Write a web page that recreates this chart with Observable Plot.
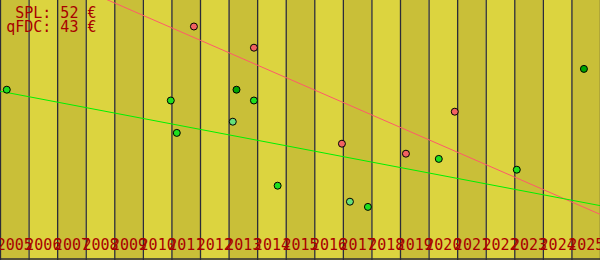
<!DOCTYPE html>
<html><head><meta charset="utf-8">
<script src="https://cdn.jsdelivr.net/npm/d3@7"></script>
<script src="https://cdn.jsdelivr.net/npm/@observablehq/plot@0.6"></script>
<style>body{margin:0;background:#fff}#chart{width:600px;height:260px;overflow:hidden}</style>
</head><body><div id="chart"></div>
<script>
// Year bands (categories)
const years = [2005,2006,2007,2008,2009,2010,2011,2012,2013,2014,2015,2016,2017,2018,2019,2020,2021,2022,2023,2024,2025];
const yearEnd = 2026;

// SPL observations (date as decimal year, price in €)
const splDates  = [2011.77, 2013.87, 2016.95, 2019.19, 2020.90];
const splPrices = [58.5, 53.2, 29.2, 26.7, 37.2];

// qFDC observations
const fdcDates  = [2005.22, 2010.96, 2011.17, 2013.13, 2013.26, 2013.87, 2014.70, 2017.23, 2017.86, 2020.34, 2023.07, 2025.42];
const fdcPrices = [42.7, 40.0, 31.9, 34.7, 42.7, 40.0, 18.7, 14.7, 13.4, 25.4, 22.7, 47.9];
const fdcKinds  = ["b","b","b","l","d","b","b","l","b","b","b","d"];

// Trend lines (values at start / end of the period)
const trendYears = [2005, 2026];
const splTrend = [76.8, 11.5];
const fdcTrend = [42.3, 13.7];

// Legend
const legendNames  = ["SPL", "qFDC"];
const legendValues = [52, 43];

const kindColor = {b: "#1ee01e", d: "#00a400", l: "#66e07a"};

const spl = splDates.map((d, i) => ({date: d, price: splPrices[i]}));
const fdc = fdcDates.map((d, i) => ({date: d, price: fdcPrices[i], kind: fdcKinds[i]}));
const splLine = trendYears.map((d, i) => ({date: d, price: splTrend[i]}));
const fdcLine = trendYears.map((d, i) => ({date: d, price: fdcTrend[i]}));
const legendText = legendNames.map((n, i) => `${n}: ${legendValues[i]} €`).join("\n");

const chart = Plot.plot({
  width: 600,
  height: 260,
  margin: 0,
  x: {domain: [2005, yearEnd], axis: null},
  y: {domain: [0, 65], axis: null},
  color: {type: "identity"},
  style: {fontFamily: "DejaVu Sans Mono", fontSize: "15px", background: "transparent", overflow: "hidden"},
  marks: [
    Plot.rect(years, {x1: d => d, x2: d => d + 1, fill: (d, i) => i % 2 === 0 ? "#c9bf38" : "#dcd43f"}),
    Plot.ruleX([...years, yearEnd], {stroke: "#2c2c38", strokeWidth: 1.3}),
    Plot.ruleY([0], {stroke: "#2c2c38", strokeWidth: 1.5, dy: -1.5}),
    Plot.line(splLine, {x: "date", y: "price", stroke: "#ff5a6a", strokeWidth: 1, clip: true}),
    Plot.line(fdcLine, {x: "date", y: "price", stroke: "#00f000", strokeWidth: 1, clip: true}),
    Plot.dot(fdc, {x: "date", y: "price", r: 3.5, fill: d => kindColor[d.kind], stroke: "#000", strokeWidth: 1}),
    Plot.dot(spl, {x: "date", y: "price", r: 3.5, fill: "#f26262", stroke: "#000", strokeWidth: 1}),
    Plot.text(years, {x: d => d + 0.5, frameAnchor: "bottom", lineAnchor: "bottom", dy: -11, text: d => String(d), fill: "#a80000", fontSize: 15}),
    Plot.text([legendText], {frameAnchor: "top-left", dx: 96, dy: 6.35, lineAnchor: "top", textAnchor: "end", lineHeight: 1, fill: "#a80000", fontSize: 15})
  ]
});
document.getElementById("chart").append(chart);
</script>
</body></html>
